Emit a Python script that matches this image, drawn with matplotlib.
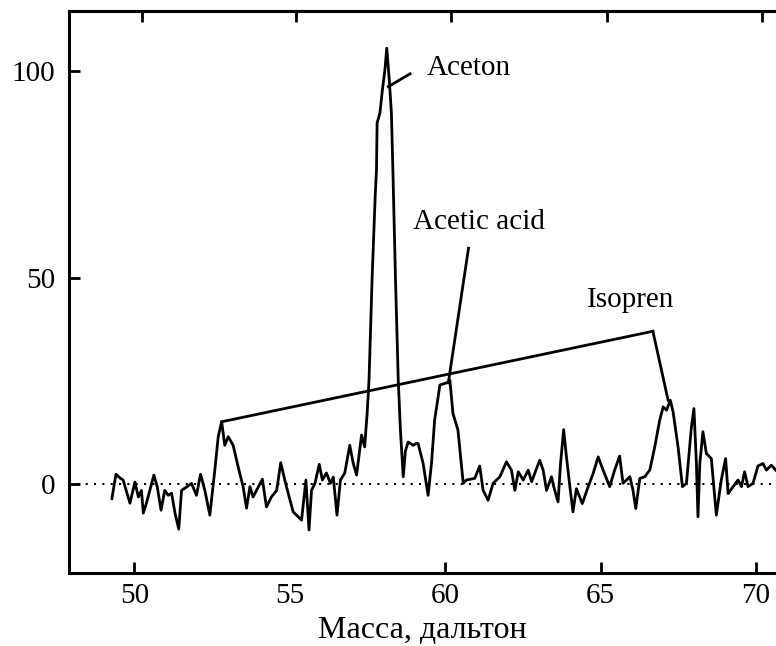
import matplotlib
matplotlib.use("Agg")
import matplotlib.pyplot as plt

plt.rcParams['font.family'] = ['Liberation Serif', 'DejaVu Serif']

# Spectrum data (mass in dalton, signal)
mass = [49.28, 49.41, 49.54, 49.64, 49.86, 50.02, 50.13, 50.23, 50.29, 50.39,
        50.63, 50.74, 50.86, 50.98, 51.09, 51.20, 51.31, 51.43, 51.52, 51.68,
        51.84, 52.00, 52.13, 52.27, 52.43, 52.59, 52.70, 52.81, 52.91, 53.02,
        53.18, 53.34, 53.50, 53.61, 53.72, 53.82, 54.12, 54.25, 54.41, 54.58,
        54.71, 54.84, 54.95, 55.11, 55.27, 55.38, 55.52, 55.62, 55.70, 55.81,
        55.95, 56.05, 56.18, 56.31, 56.40, 56.52, 56.63, 56.77, 56.93, 57.04,
        57.15, 57.31, 57.41, 57.49, 57.55, 57.65, 57.75, 57.79, 57.81, 57.90,
        57.98, 58.06, 58.12, 58.20, 58.27, 58.32, 58.40, 58.49, 58.56, 58.65,
        58.72, 58.81, 58.97, 59.08, 59.13, 59.29, 59.45, 59.56, 59.66, 59.83,
        60.04, 60.15, 60.25, 60.41, 60.58, 60.68, 60.95, 61.11, 61.22, 61.38,
        61.54, 61.76, 61.97, 62.13, 62.24, 62.35, 62.51, 62.67, 62.78, 62.88,
        63.04, 63.15, 63.26, 63.42, 63.49, 63.63, 63.71, 63.81, 63.90, 64.01,
        64.11, 64.22, 64.41, 64.60, 64.76, 64.92, 65.08, 65.29, 65.45, 65.61,
        65.72, 65.94, 66.04, 66.13, 66.26, 66.42, 66.58, 66.74, 66.90, 67.01,
        67.12, 67.24, 67.33, 67.49, 67.63, 67.76, 67.92, 68.00, 68.08, 68.13,
        68.19, 68.29, 68.40, 68.56, 68.67, 68.72, 68.88, 69.02, 69.10, 69.26,
        69.42, 69.53, 69.63, 69.74, 69.90, 70.06, 70.22, 70.33, 70.49, 70.63]
signal = [-3.5, 2.4, 1.5, 1.0, -4.6, 0.5, -3.1, -1.5, -7.0, -4.6,
          2.2, -0.7, -6.3, -1.5, -2.7, -2.2, -7.0, -10.9, -1.5, -0.7,
          0.2, -2.7, 2.4, -1.5, -7.5, 3.4, 11.5, 15.1, 9.4, 11.5,
          9.4, 4.2, -0.6, -5.8, -0.6, -3.1, 1.2, -5.5, -3.1, -1.5,
          5.2, 1.0, -2.2, -6.7, -7.9, -8.7, 1.0, -11.1, -1.5, 0.2,
          4.8, 1.0, 2.7, 0.2, 1.7, -7.5, 1.0, 2.7, 9.4, 5.1,
          2.2, 11.9, 9.0, 17.2, 25.2, 50.0, 70.0, 76.0, 87.4, 89.8,
          95.4, 100.2, 105.5, 98.0, 89.8, 75.3, 50.0, 25.2, 13.1, 1.8,
          8.0, 10.2, 9.4, 9.9, 9.8, 5.0, -2.7, 5.1, 15.5, 24.0,
          24.5, 25.2, 17.1, 13.1, 0.2, 1.0, 1.4, 4.4, -1.5, -3.9,
          0.2, 1.8, 5.4, 3.4, -1.5, 3.0, 1.0, 3.4, 0.6, 2.6,
          5.8, 3.4, -1.5, 1.8, -0.6, -4.3, 5.0, 13.2, 6.6, -0.6,
          -6.7, -1.1, -4.7, -0.6, 2.6, 6.6, 3.4, -0.6, 3.4, 6.8,
          0.2, 1.8, -1.5, -5.9, 1.4, 1.8, 3.4, 9.0, 15.5, 18.7,
          17.9, 20.3, 17.5, 9.0, -0.6, 0.2, 13.9, 18.3, 5.0, -7.9,
          5.0, 12.7, 7.4, 6.2, -3.1, -7.5, 1.0, 6.2, -2.3, -0.6,
          1.0, -0.6, 3.0, -0.6, 0.2, 4.4, 5.0, 3.4, 4.6, 3.4]

xticks = [50, 55, 60, 65, 70]
yticks = [0, 50, 100]
top_ticks = [50.24, 55.2, 60.2, 65.2, 70.2]
xlabel = "Масса, дальтон"

# annotations: label, text position, list of (line start, line end)
ann_labels = ["Aceton", "Acetic acid", "Isopren"]
ann_text_xy = [(59.4, 100.7), (58.96, 63.4), (64.55, 44.6)]
ann_lines = [
    [((58.17, 96.2), (58.87, 99.3))],
    [((60.75, 57.1), (60.1, 24.5))],
    [((66.68, 37.0), (52.81, 15.1)), ((66.68, 37.0), (67.17, 20.3))],
]

fig = plt.figure(figsize=(7.76, 6.46), dpi=100)
ax = fig.add_axes([69 / 776, 1 - 573 / 646, 707 / 776, 562 / 646])

ax.axhline(0, color='black', lw=1.5, linestyle=(0, (1, 3)), zorder=1)
ax.plot(mass, signal, color='black', lw=2.0, zorder=3)

for lines in ann_lines:
    for (p0, p1) in lines:
        ax.plot([p0[0], p1[0]], [p0[1], p1[1]], color='black', lw=2.0, zorder=3)
for lab, (tx, ty) in zip(ann_labels, ann_text_xy):
    ax.text(tx, ty, lab, fontsize=21, ha='left', va='center')

ax.set_xlim(47.9, 70.64)
ax.set_ylim(-21.5, 114.5)
ax.set_xticks(xticks)
ax.set_yticks(yticks)
ax.tick_params(direction='in', length=8, width=2, labelsize=21)
ax.tick_params(axis='y', pad=10)
ax.tick_params(axis='x', pad=7)
ax.xaxis.get_major_ticks()[1].tick1line.set_visible(False)
ax.set_xlabel(xlabel, fontsize=23, labelpad=5)

for s in ['left', 'bottom', 'top']:
    ax.spines[s].set_linewidth(2.2)
ax.spines['right'].set_visible(False)

sec = ax.secondary_xaxis('top')
sec.set_xticks(top_ticks)
sec.set_xticklabels([])
sec.tick_params(direction='in', length=8, width=2)
sec.spines['top'].set_linewidth(2.2)

fig.savefig("out.png", dpi=100)
